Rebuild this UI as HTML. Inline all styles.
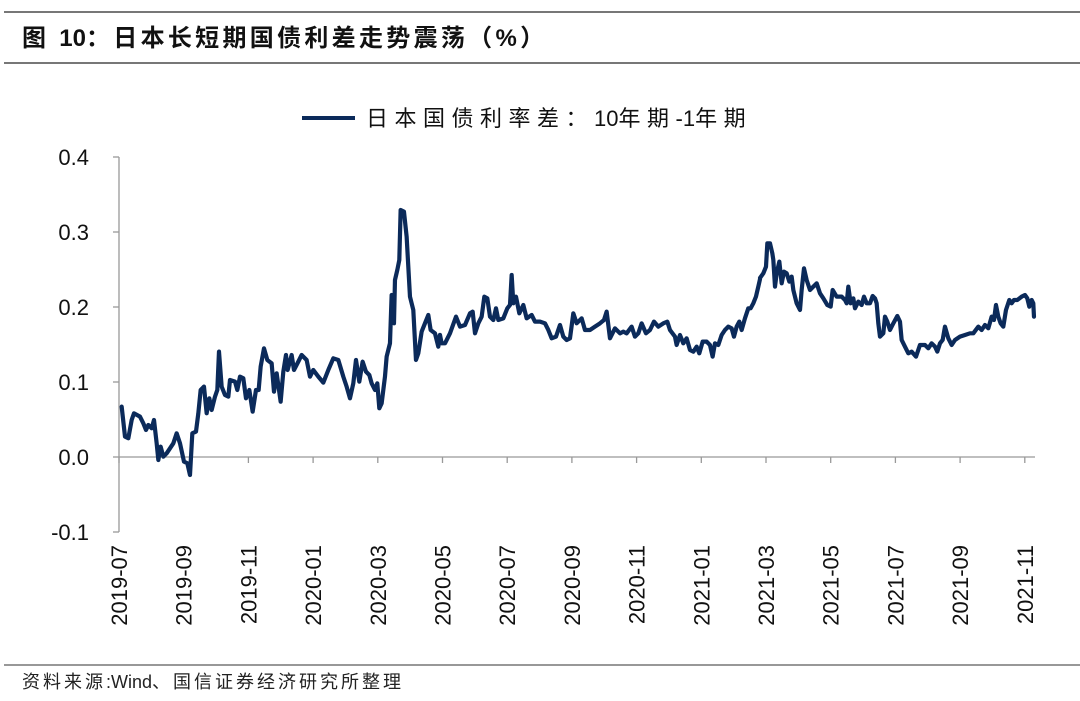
<!DOCTYPE html>
<html><head><meta charset="utf-8"><style>
body{margin:0;background:#fff;width:1080px;height:696px;overflow:hidden;font-family:"Liberation Sans","Noto Sans CJK SC",sans-serif}
</style></head><body>
<svg width="1080" height="696" xmlns="http://www.w3.org/2000/svg" font-family="Liberation Sans, Noto Sans CJK SC, sans-serif">
<line x1="4" y1="12" x2="1080" y2="12" stroke="#777" stroke-width="2"/>
<line x1="4" y1="63" x2="1080" y2="63" stroke="#777" stroke-width="2"/>
<text x="22" y="46" font-size="24" font-weight="bold" fill="#111" letter-spacing="3.3">图 <tspan letter-spacing="0">10</tspan>：日本长短期国债利差走势震荡（%）</text>
<line x1="302" y1="118" x2="355" y2="118" stroke="#0b2a5a" stroke-width="4"/>
<text x="366" y="126" font-size="22" fill="#111" letter-spacing="6.5">日本国债利率差：<tspan letter-spacing="0">10</tspan>年期<tspan letter-spacing="0">-1</tspan>年期</text>
<g font-size="22" fill="#111" text-anchor="end">
<text x="89" y="165">0.4</text><text x="89" y="240">0.3</text><text x="89" y="315">0.2</text>
<text x="89" y="390">0.1</text><text x="89" y="465">0.0</text><text x="89" y="540">-0.1</text>
</g>
<g stroke="#999" stroke-width="1.3">
<line x1="119" y1="157" x2="119" y2="532"/>
<line x1="113" y1="157" x2="119" y2="157"/><line x1="113" y1="232" x2="119" y2="232"/>
<line x1="113" y1="307" x2="119" y2="307"/><line x1="113" y1="382" x2="119" y2="382"/>
<line x1="113" y1="457" x2="119" y2="457"/><line x1="113" y1="532" x2="119" y2="532"/>
<line x1="119" y1="457" x2="1035" y2="457"/>
</g>
<g id="xt" stroke="#999" stroke-width="1.3"></g>
<g id="xl" font-size="22" fill="#111"></g>
<g fill="none" stroke="#0b2a5a" stroke-width="4.2" stroke-linejoin="round" stroke-linecap="round">
<polyline vector-effect="non-scaling-stroke" transform="translate(110,190) scale(0.3333)" points="35,650 45,740 55,745 65,690 72,670 90,680 100,700 108,720 115,705 125,715 132,690 140,760 145,810 152,770 160,800 170,790 180,775 190,760 200,730 210,760 222,815 232,820 240,855 247,730 258,725 265,670 272,600 282,590 290,670 298,625 305,660 315,620 322,600 327,485 335,590 345,615 355,620 360,570 375,575 382,600 390,560 400,565 408,625 418,600 428,665 438,600 446,600 452,530 462,475 472,510 485,520 492,605 500,550 512,635 520,545 528,495 533,540 545,495 552,540 565,515 575,495 590,510 600,560 610,540 625,560 640,578 655,540 670,505 685,510 700,560 710,590 720,625 730,580 738,510 748,575 758,515 768,545 778,555 785,580 795,600 802,580 808,655 815,640 825,560 830,500 840,460 845,315 852,400 855,270 862,240 868,210 872,60 882,65 890,140 900,320 910,360 918,510 925,490 935,425 945,400 955,375 962,420 975,430 985,470 990,435"/>
<polyline vector-effect="non-scaling-stroke" transform="translate(430,190) scale(0.3333)" points="30,435 35,460 45,460 60,430 78,380 90,410 105,405 120,370 128,365 135,430 145,400 155,380 163,320 172,325 180,380 190,390 198,355 205,390 220,385 232,355 240,345 245,255 250,340 258,320 268,370 280,345 290,385 305,375 315,395 330,395 345,400 355,420 365,445 378,440 390,405 400,440 410,450 420,445 430,370 440,400 455,385 465,420 480,420 495,410 510,400 522,390 530,365 540,445 555,415 570,430 580,425 590,430 605,410 615,440 625,430 635,400 648,430 660,420 672,395 685,410 700,400 712,395 720,420 735,440 740,465 750,435 760,460 770,445 780,480 790,485 800,470 808,490 818,455 830,455 840,465 848,500 855,460 865,465 875,435 885,420 895,410 905,415 912,440 920,410 928,395 935,420 945,385 955,355 962,355 970,340 978,320 985,290 990,268"/>
<polyline vector-effect="non-scaling-stroke" transform="translate(740,190) scale(0.3333)" points="60,264 70,250 78,230 82,160 90,160 97,190 100,210 105,290 110,250 118,215 125,280 132,245 140,250 148,275 155,260 160,300 170,340 180,360 185,300 192,235 200,270 210,300 220,290 230,280 240,310 250,325 262,345 272,350 278,300 290,320 305,320 315,330 320,340 325,290 332,340 340,325 345,355 355,335 365,345 372,320 380,340 390,340 398,318 405,325 410,340 415,400 420,440 430,430 435,380 442,395 450,420 460,400 472,378 480,395 485,450 495,470 505,490 515,485 528,500 540,465 555,465 565,475 575,460 585,470 592,485 600,460 608,450 615,410 625,445 635,465 645,450 660,440 675,435 690,430 700,430 715,410 725,420 735,405 745,415 755,380 762,390 768,345 775,380 782,400 790,410 798,360 808,330 815,340 822,330 832,330 845,320 855,315 862,325 868,350 875,330 880,340 882,380"/>
</g>
<line x1="4" y1="665" x2="1080" y2="665" stroke="#777" stroke-width="1.5"/>
<text x="22" y="688" font-size="18" fill="#222" letter-spacing="3">资料来源<tspan letter-spacing="0">:Wind</tspan>、国信证券经济研究所整理</text>
</svg>
<script>
var labs=["2019-07","2019-09","2019-11","2020-01","2020-03","2020-05","2020-07","2020-09","2020-11","2021-01","2021-03","2021-05","2021-07","2021-09","2021-11"];
var t=document.getElementById("xt"),l=document.getElementById("xl"),ns="http://www.w3.org/2000/svg";
labs.forEach(function(s,i){var x=119+64.7*i;
var ln=document.createElementNS(ns,"line");ln.setAttribute("x1",x);ln.setAttribute("x2",x);ln.setAttribute("y1",457);ln.setAttribute("y2",463);t.appendChild(ln);
var tx=document.createElementNS(ns,"text");tx.setAttribute("transform","translate("+(x+8)+",545) rotate(-90)");tx.setAttribute("text-anchor","end");tx.textContent=s;l.appendChild(tx);});
</script>
</body></html>
